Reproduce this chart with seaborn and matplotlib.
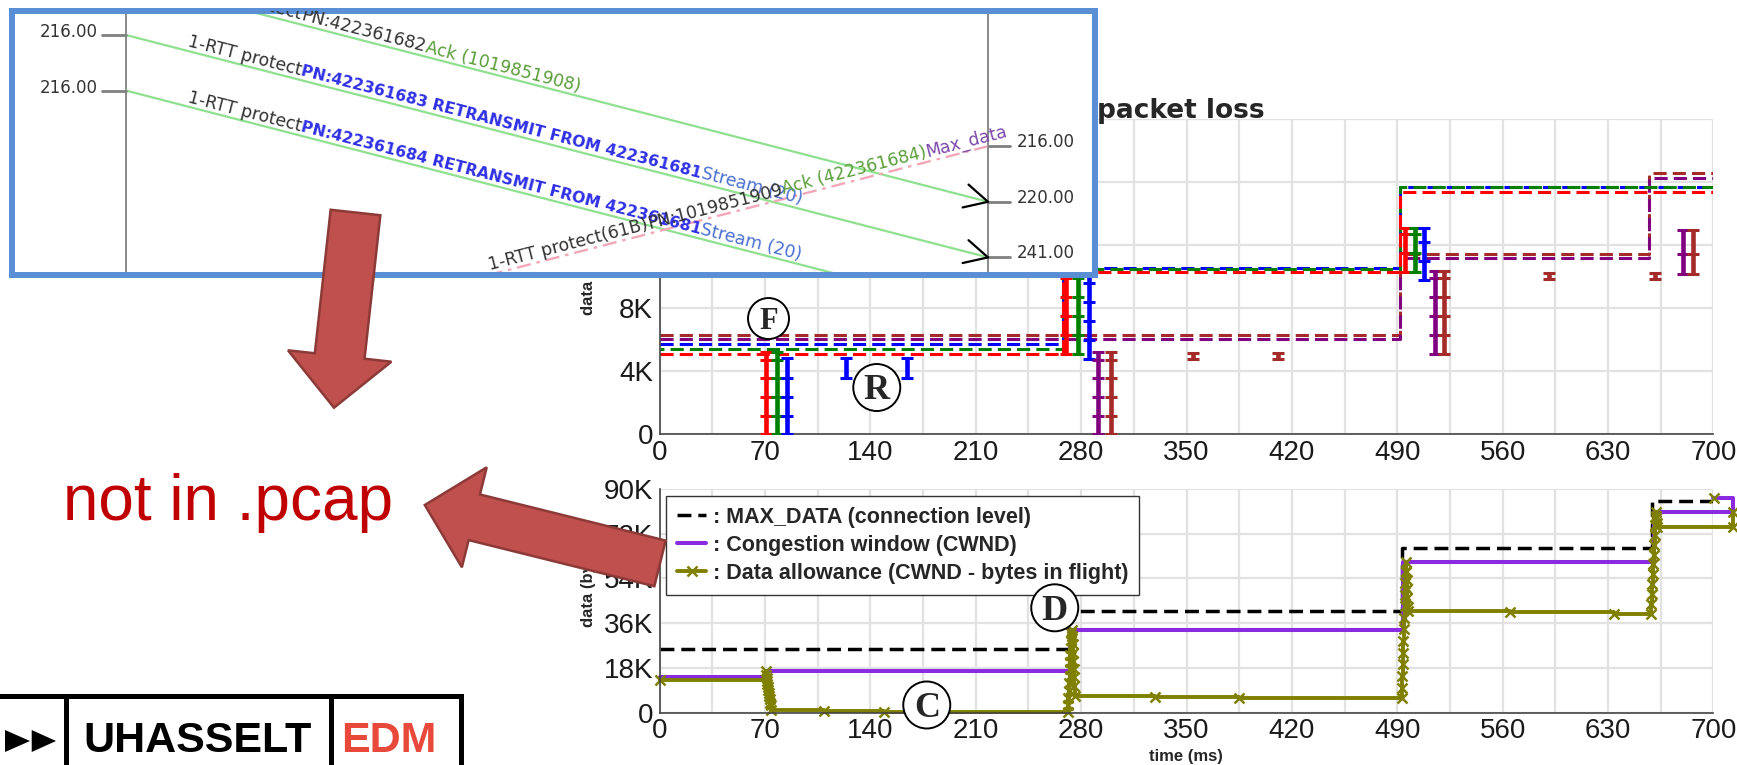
import math
import numpy as np
import pandas as pd
import matplotlib
matplotlib.use("Agg")
import matplotlib.pyplot as plt
import seaborn as sns
from matplotlib.patches import FancyArrow, Circle, Rectangle, Polygon
from matplotlib.ticker import MultipleLocator

# ------------------------------------------------------------------ data
# x axis (time, ms) and y tick labels (K bytes)
x_ticks = [0, 70, 140, 210, 280, 350, 420, 490, 560, 630, 700]
top_yticks = [0, 4, 8, 12, 16, 20]
bot_yticks = [0, 18, 36, 54, 72, 90]

# top chart: per-stream flow-control limits (K) - step series
limit_rgb_t = [0, 268, 492, 700]
limit_red = [5.10, 10.30, 15.40, 15.40]
limit_green = [5.40, 10.52, 15.68, 15.68]
limit_blue = [5.71, 10.55, 15.70, 15.70]
limit_pb_t = [0, 492, 657, 700]
limit_purple = [6.03, 11.17, 16.25, 16.25]
limit_brown = [6.33, 11.45, 16.57, 16.57]

# top chart: packets sent per stream (time, byte-offset boundaries in K)
red_t = [71, 270, 495]
red_runs = [[0, 1.19, 2.37, 3.56, 4.74, 5.2], [5.1, 6.3, 7.5, 8.7, 9.9, 10.3], [10.3, 11.5, 12.7, 13.1]]
green_t = [78, 278, 502]
green_runs = [[0, 1.19, 2.37, 3.56, 4.74, 5.2], [5.1, 6.3, 7.5, 8.7, 9.9, 10.5], [10.3, 11.5, 12.7, 13.1]]
blue_t = [85, 124, 164.5, 285, 508]
blue_runs = [[0, 1.19, 2.37, 3.56, 4.83], [3.56, 4.83], [3.56, 4.83],
             [4.8, 6.0, 7.2, 8.4, 9.6, 10.5], [9.8, 11.0, 12.2, 13.1]]
purple_t = [291, 515, 680]
purple_runs = [[0, 1.19, 2.37, 3.56, 4.74, 5.2], [5.1, 6.3, 7.5, 8.7, 9.9, 10.4], [10.2, 11.45, 13.0]]
brown_t = [300, 354.5, 411, 521, 591, 661, 686.5]
brown_runs = [[0, 1.19, 2.37, 3.56, 4.74, 5.2], [4.8, 5.15], [4.8, 5.15],
              [5.1, 6.3, 7.5, 8.7, 9.9, 10.4], [9.85, 10.25], [9.85, 10.25], [10.2, 11.45, 13.0]]

# bottom chart (K bytes)
maxdata_t = [0, 272, 493, 659, 700]
maxdata_v = [25.6, 40.8, 66.45, 85.3, 85.3]
cwnd_t = [0, 70.6, 272.6, 494.0, 660.5, 713.0, 713.0, 700.0]
cwnd_v = [14.55, 16.6, 33.2, 60.5, 80.6, 80.6, 86.3, 86.3]
allow_t = [0,
           70.5, 70.8, 71.1, 71.4, 71.7, 72.0, 72.3, 72.6, 72.9, 73.2, 73.5, 73.8, 74.1,
           109, 149,
           271.2, 271.4, 271.6, 271.8, 272.0, 272.3, 272.5, 272.7, 272.9, 273.1, 273.3, 273.5,
           273.8, 274.0, 274.3, 274.5, 274.8, 275.0, 275.3, 275.5, 275.8,
           329, 385,
           492.8, 493.0, 493.3, 493.5, 493.8, 494.0, 494.3, 494.5, 494.8, 495.0, 495.3, 495.5, 495.8,
           496.0, 496.2, 496.4, 496.6, 496.8, 497.0,
           565, 634,
           658.5, 658.8, 659.1, 659.4, 659.7, 660.0, 660.3, 660.6, 660.9, 661.2, 661.5, 661.8,
           662.1, 662.4, 662.7,
           713, 713]
allow_v = [13.2,
           16.6, 15.3, 14.1, 12.8, 11.6, 10.3, 9.1, 7.9, 6.6, 5.4, 4.1, 2.9, 1.1,
           0.7, 0.2,
           0.2, 3.1, 6.0, 8.8, 11.9, 14.6, 17.7, 20.5, 23.4, 26.2, 29.3, 32.1,
           33.2, 30.8, 27.5, 24.1, 20.9, 17.6, 14.2, 10.9, 6.6,
           6.2, 5.8,
           5.8, 10.1, 14.9, 19.6, 24.2, 28.8, 33.5, 38.1, 42.9, 47.4, 52.2, 56.7, 60.5,
           57.1, 53.4, 49.8, 46.0, 42.5, 40.8,
           40.4, 39.9,
           39.9, 43.8, 47.9, 51.6, 55.8, 59.7, 63.5, 67.6, 71.4, 75.5, 79.2, 80.6,
           78.3, 76.4, 74.9,
           74.9, 80.6]
allow_extra_t = [700.5]
allow_extra_v = [86.3]
legend_labels = [": MAX_DATA (connection level)", ": Congestion window (CWND)",
                 ": Data allowance (CWND - bytes in flight)"]

# sequence-diagram inset (qvis style)
seq_left_rows = [0, 1]
seq_left_labels = ["216.00", "216.00"]
seq_right_rows = [2, 3, 4]
seq_right_labels = ["216.00", "220.00", "241.00"]
msg_from_rows = [-1, 0, 1, 2]
msg_to_rows = [3, 4, 5, 6]
msg_dirs = ["LR", "LR", "LR", "RL"]
msg_texts = [
    [("1-RTT protect", "plain"), ("PN:422361682", "plain"), ("Ack (1019851908)", "ack")],
    [("1-RTT protect", "plain"), ("PN:422361683 RETRANSMIT FROM 422361681", "retx"), ("Stream (20)", "stream")],
    [("1-RTT protect", "plain"), ("PN:422361684 RETRANSMIT FROM 422361681", "retx"), ("Stream (20)", "stream")],
    [("1-RTT protect(61B)", "plain"), ("PN:1019851909", "plain"), ("Ack (422361684)", "ack"), ("Max_data", "maxdata")],
]

# ------------------------------------------------------------------ figure
sns.set_style("white")
plt.rcParams["font.family"] = ["Liberation Sans", "DejaVu Sans"]
W, H = 1737, 765
fig = plt.figure(figsize=(W / 100, H / 100), dpi=100)
fig.patch.set_facecolor("white")


def fx(x):
    return x / W


def fy(y):
    return 1 - y / H


AX_L, AX_R = 659.5, 1713.5
ax_top = fig.add_axes([fx(AX_L), fy(434.3), (AX_R - AX_L) / W, (434.3 - 119.3) / H])
ax_bot = fig.add_axes([fx(AX_L), fy(712.7), (AX_R - AX_L) / W, (712.7 - 489.0) / H])

# ---- top chart
dash_lw = 2.2
for tt, vv, col, off in [(limit_pb_t, limit_brown, "#A52A2A", 0), (limit_pb_t, limit_purple, "#800080", 0),
                         (limit_rgb_t, limit_blue, "#0000FF", 0), (limit_rgb_t, limit_green, "#008000", 3),
                         (limit_rgb_t, limit_red, "#FF0000", 0)]:
    sns.lineplot(x=tt, y=vv, ax=ax_top, color=col, lw=dash_lw, drawstyle="steps-post",
                 estimator=None, sort=False, legend=False)
    ln = ax_top.lines[-1]
    ln.set_linestyle((off, (4.3, 2.0)))
    ln.set_dash_capstyle("butt")

for ts, runs, col in [(red_t, red_runs, "#FF0000"), (green_t, green_runs, "#008000"),
                      (blue_t, blue_runs, "#0000FF"), (purple_t, purple_runs, "#800080"),
                      (brown_t, brown_runs, "#A52A2A")]:
    for t, run in zip(ts, runs):
        ax_top.plot([t] * len(run), run, color=col, lw=3.3, marker="_", ms=8.5, mew=2.2,
                    solid_capstyle="butt", zorder=3)

# ---- bottom chart
sns.lineplot(x=maxdata_t, y=maxdata_v, ax=ax_bot, color="black", lw=2.5, drawstyle="steps-post",
             estimator=None, sort=False, legend=False)
l_max = ax_bot.lines[-1]
l_max.set_linestyle((0, (4.0, 2.0)))
sns.lineplot(x=cwnd_t, y=cwnd_v, ax=ax_bot, color="#8A2BE2", lw=2.9, drawstyle="steps-post",
             estimator=None, sort=False, legend=False)
l_cwnd = ax_bot.lines[-1]
l_cwnd.set_clip_on(False)
sns.lineplot(x=allow_t, y=allow_v, ax=ax_bot, color="#808000", lw=2.8, drawstyle="steps-post",
             marker="x", markersize=7, markeredgewidth=1.8, markeredgecolor="#808000",
             estimator=None, sort=False, legend=False)
l_allow = ax_bot.lines[-1]
l_allow.set_clip_on(False)
ax_bot.plot(allow_extra_t, allow_extra_v, ls="none", marker="x", ms=7, mew=1.8, color="#808000",
            clip_on=False, zorder=3)

# ---- axes styling
for ax, yt, yminor in [(ax_top, top_yticks, 2), (ax_bot, bot_yticks, 9)]:
    ax.set_xlim(0, 700)
    ax.set_ylim(0, yt[-1])
    ax.set_xticks(x_ticks)
    ax.set_xticklabels([str(v) for v in x_ticks])
    ax.xaxis.set_minor_locator(MultipleLocator(35))
    ax.set_yticks(yt)
    ax.set_yticklabels(["0" if v == 0 else f"{v}K" for v in yt])
    ax.yaxis.set_minor_locator(MultipleLocator(yminor))
    ax.grid(True, axis="x", which="both", color="#e2e2e2", lw=1.6)
    ax.grid(True, axis="y", which="major", color="#e2e2e2", lw=1.6)
    ax.set_axisbelow(True)
    for s in ["top", "right"]:
        ax.spines[s].set_visible(False)
    for s in ["left", "bottom"]:
        ax.spines[s].set_color("#444444")
        ax.spines[s].set_linewidth(1.2)
    ax.tick_params(axis="x", which="both", length=0, pad=4, labelsize=20, labelcolor="#1a1a1a")
    ax.tick_params(axis="y", which="major", length=4, width=1, color="#444444", pad=0.5,
                   labelsize=20, labelcolor="#1a1a1a")
    ax.tick_params(axis="y", which="minor", length=2.5, width=1, color="#444444")
    ax.set_xlabel("")
    ax.set_ylabel("")

leg = ax_bot.legend([l_max, l_cwnd, l_allow], legend_labels, loc="upper left",
                    bbox_to_anchor=(fx(666.4), fy(496)), bbox_transform=fig.transFigure,
                    borderaxespad=0, fancybox=False, framealpha=1, edgecolor="#333333",
                    prop={"family": "Liberation Sans", "weight": "bold", "size": 15.5},
                    handlelength=1.35, handletextpad=0.3, borderpad=0.5, labelspacing=0.33,
                    numpoints=1)
leg.get_frame().set_linewidth(1.0)

# axis labels / title (drawn with their own axes so the inset covers them)
ax_top.text(fx(588), fy(315), "data (bytes)", transform=fig.transFigure, rotation=90,
            ha="center", va="bottom", fontsize=12, fontweight="bold")
ax_bot.text(fx(588), fy(627), "data (bytes)", transform=fig.transFigure, rotation=90,
            ha="center", va="bottom", fontsize=12, fontweight="bold")
ax_bot.text(fx(1186), fy(756), "time (ms)", transform=fig.transFigure, ha="center", va="center",
            fontsize=12, fontweight="bold")
ax_top.text(fx(1097), fy(118), "packet loss", transform=fig.transFigure, ha="left", va="baseline",
            fontsize=19, fontweight="bold", family="DejaVu Sans")

# ------------------------------------------------------------------ inset sequence diagram
ins = fig.add_axes([fx(11.5), fy(275), (1095 - 11.5) / W, (275 - 11) / H])
ins.set_xlim(11.5, 1095)
ins.set_ylim(275, 11)
ins.set_xticks([])
ins.set_yticks([])
ins.set_facecolor("white")
for s in ins.spines.values():
    s.set_color("#5A8ED5")
    s.set_linewidth(4.3)

LEFT_X, RIGHT_X = 126.0, 988.0
ROW0, ROW_STEP = 35.0, 55.6


def row_y(r):
    return ROW0 + ROW_STEP * r


ins.plot([LEFT_X, LEFT_X], [0, 300], color="#808080", lw=1.3, zorder=1)
ins.plot([RIGHT_X, RIGHT_X], [0, 300], color="#808080", lw=1.3, zorder=1)

renderer = fig.canvas.get_renderer()


def text_width(s, **kw):
    t = fig.text(0, 0, s, **kw)
    w = t.get_window_extent(renderer=renderer).width
    t.remove()
    return w


styles = {
    "plain": dict(color="#333333", family="DejaVu Sans", fontsize=12.4, fontweight="normal"),
    "retx": dict(color="#3030E6", family="DejaVu Sans", fontsize=11.3, fontweight="bold"),
    "stream": dict(color="#4A70D0", family="DejaVu Sans", fontsize=12.4, fontweight="normal"),
    "ack": dict(color="#5B9E3A", family="DejaVu Sans", fontsize=12.4, fontweight="normal"),
    "maxdata": dict(color="#7B48A8", family="DejaVu Sans", fontsize=12.4, fontweight="normal"),
}
msg_text_x = [LEFT_X + 60, LEFT_X + 60, LEFT_X + 60, 491.0]

for fr, to, d, segs, xs in zip(msg_from_rows, msg_to_rows, msg_dirs, msg_texts, msg_text_x):
    if d == "LR":
        x0, y0, x1, y1 = LEFT_X, row_y(fr), RIGHT_X, row_y(to)
        ins.plot([x0, x1], [y0, y1], color="#8FE08F", lw=1.6, zorder=2)
        # arrow head at the right timeline
        L = math.hypot(x1 - x0, y1 - y0)
        ux, uy = (x0 - x1) / L, (y0 - y1) / L
        for a in (math.radians(27), -math.radians(27)):
            bx = ux * math.cos(a) - uy * math.sin(a)
            by = ux * math.sin(a) + uy * math.cos(a)
            ins.plot([x1, x1 + 26 * bx], [y1, y1 + 26 * by], color="black", lw=1.6, zorder=4,
                     solid_capstyle="round")
    else:
        x0, y0, x1, y1 = RIGHT_X, row_y(fr), LEFT_X, row_y(to)
        ins.plot([x0, x1], [y0, y1], color="#F4A7B9", lw=1.7, ls=(0, (6, 2.5, 1.5, 2.5)), zorder=2)
    slope = (y1 - y0) / (x1 - x0)
    n = math.hypot(1, slope)
    ux, uy = 1 / n, slope / n
    px, py = uy, -ux
    yl = y0 + (xs - x0) * slope
    bx, by = xs + 4.5 * px, yl + 4.5 * py
    ang = -math.degrees(math.atan2(uy, ux))
    pos = 0.0
    for s, st in segs:
        kw = styles[st]
        ins.text(bx + pos * ux, by + pos * uy, s, rotation=ang, rotation_mode="anchor",
                 ha="left", va="baseline", clip_on=True, zorder=5, **kw)
        pos += text_width(s, family=kw["family"], fontsize=kw["fontsize"], fontweight=kw["fontweight"])

for r, lab in zip(seq_left_rows, seq_left_labels):
    y = row_y(r)
    ins.plot([LEFT_X - 24, LEFT_X], [y, y], color="#808080", lw=2, zorder=3)
    ins.text(LEFT_X - 28, y - 3, lab, ha="right", va="center", family="DejaVu Sans",
             fontsize=12, color="#333333", zorder=5)
for r, lab in zip(seq_right_rows, seq_right_labels):
    y = row_y(r)
    ins.plot([RIGHT_X, RIGHT_X + 22], [y, y], color="#808080", lw=2, zorder=3)
    ins.text(RIGHT_X + 29, y - 4, lab, ha="left", va="center", family="DejaVu Sans",
             fontsize=12, color="#333333", zorder=5)

# ------------------------------------------------------------------ overlay (annotations)
ov = fig.add_axes([0, 0, 1, 1])
ov.set_xlim(0, W)
ov.set_ylim(H, 0)
ov.axis("off")
ov.set_zorder(10)


def to_ov(ax, x, y):
    dx, dy = ax.transData.transform((x, y))
    return dx, H - dy


for ax, (x, y), letter, r, fs in [(ax_top, (72.4, 7.35), "F", 20.5, 22),
                                  (ax_top, (144.3, 2.97), "R", 23.5, 26),
                                  (ax_bot, (262.5, 42.2), "D", 23.5, 26),
                                  (ax_bot, (177.5, 3.1), "C", 23.5, 26)]:
    cx, cy = to_ov(ax, x, y)
    ov.add_patch(Circle((cx, cy), r, fc="white", ec="black", lw=1.4, zorder=2))
    ov.text(cx, cy + fs * 1.389 * 0.662 / 2, letter, ha="center", va="baseline",
            family="Liberation Serif", fontweight="bold", fontsize=fs, zorder=3)

arrow_kw = dict(length_includes_head=True, fc="#C0504D", ec="#8C3A38", lw=1.8, joinstyle="miter", zorder=5)
ov.add_patch(FancyArrow(355.5, 212.5, -21.5, 195.2, width=50, head_width=104, head_length=52, **arrow_kw))
ov.add_patch(FancyArrow(660, 563.4, -235.2, -58.4, width=47, head_width=103, head_length=51, **arrow_kw))

ov.text(228.5, 520, "not in .pcap", ha="center", va="baseline", fontsize=46, color="#C00000")

# logo
ov.add_patch(Rectangle((-10, 695.8), 470.5, 120, fill=False, ec="black", lw=3.6))
ov.plot([65.8, 65.8], [695.8, 800], color="black", lw=3.6)
ov.plot([330.5, 330.5], [695.8, 800], color="black", lw=3.6)
ov.add_patch(Polygon([(5, 730), (30, 741), (5, 752)], closed=True, fc="black", ec="none"))
ov.add_patch(Polygon([(31.7, 730), (56, 741), (31.7, 752)], closed=True, fc="black", ec="none"))
ov.text(197.5, 741, "UHASSELT", ha="center", va="center", fontsize=31, fontweight="bold", color="black")
ov.text(389, 741, "EDM", ha="center", va="center", fontsize=31, fontweight="bold", color="#E8493B")

fig.savefig("out.png", dpi=100, facecolor="white")
